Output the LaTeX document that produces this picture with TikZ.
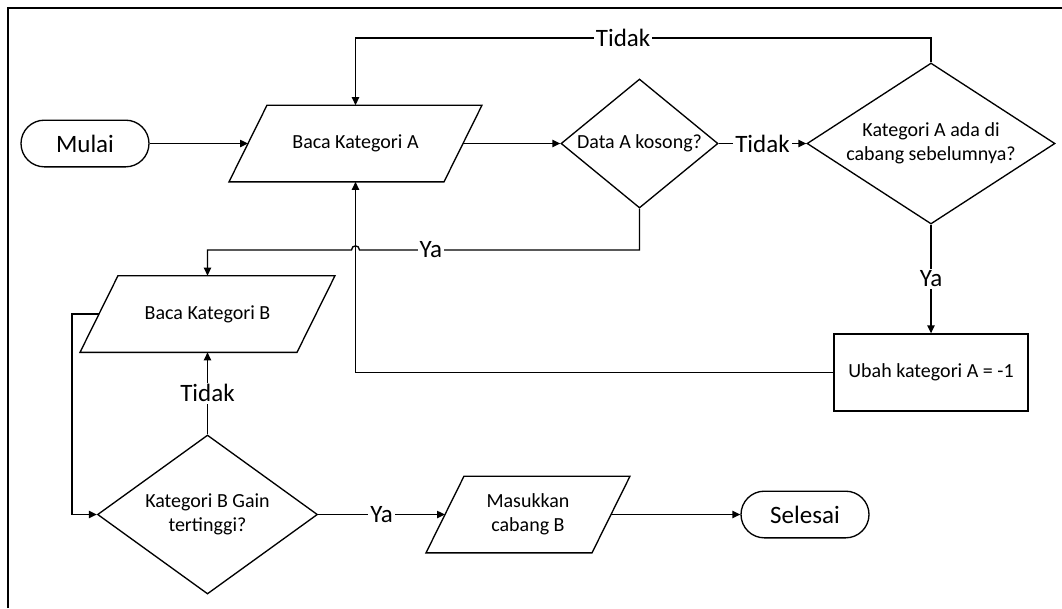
\documentclass[tikz,border=0pt]{standalone}
\usepackage{fontspec}
\setmainfont{Carlito}
\usetikzlibrary{arrows.meta,shapes.geometric,shapes.misc}
\begin{document}
\begin{tikzpicture}[x=0.75pt,y=-0.75pt,
  line width=1pt,
  small/.style={font=\fontsize{15}{18}\selectfont},
  big/.style={font=\fontsize{18.75}{22}\selectfont},
  terminal/.style={rounded rectangle, draw, big, minimum width=96pt, minimum height=35pt, inner sep=0pt},
  iobox/.style={small, align=center, inner sep=0pt, outer sep=0pt, minimum height=57.5pt},
  process/.style={rectangle, draw, small, minimum width=145.5pt, minimum height=57.75pt},
  decision/.style={diamond, draw, small, align=center, inner sep=0pt},
  lbl/.style={big, fill=white, inner sep=1.5pt},
  flow/.style={-{Triangle[length=6pt,width=5.5pt]}},
]
\useasboundingbox (0,0) rectangle (1062,608);

% frame
\draw[line width=1.5pt] (8,608) -- (8,8) -- (1062,8);

% nodes
\node[terminal] (start) at (85,143.5) {Mulai};
\node[iobox, minimum width=161.25pt] (bacaA) at (355.5,143.5) {Baca Kategori A};
\node[decision, minimum width=117.75pt, minimum height=96.75pt, aspect=1.22] (d1) at (639.5,143.5) {Data A kosong?};
\node[decision, minimum width=186pt, minimum height=120.75pt, aspect=1.54] (d2) at (931,143.5) {Kategori A ada di\\cabang sebelumnya?};
\node[process] (ubah) at (931,372.5) {Ubah kategori A = -1};
\node[iobox, minimum width=162.75pt] (bacaB) at (207.5,314) {Baca Kategori B};
\node[decision, minimum width=165pt, minimum height=119.25pt, aspect=1.38] (d3) at (207.5,514.5) {Kategori B Gain\\tertinggi?};
\node[iobox, minimum width=124.5pt] (masuk) at (528,514.5) {Masukkan\\cabang B};
\node[terminal] (finish) at (805,514.5) {Selesai};

% input/output parallelograms
\foreach \n in {bacaA,bacaB,masuk}
  \draw ([xshift=14.25pt]\n.north west) -- ([xshift=14.25pt]\n.north east)
     -- ([xshift=-14.25pt]\n.south east) -- ([xshift=-14.25pt]\n.south west) -- cycle;

% connectors
\draw[flow] (start.east) -- (bacaA.west);
\draw[flow] (bacaA.east) -- (d1.west);
\draw[flow] (d1.east) -- node[lbl]{Tidak} (d2.west);
\draw[flow] (d2.north) -- (931,38) -- node[lbl,pos=0.535]{Tidak} (355.5,38) -- (bacaA.north);
\draw[flow] (d2.south) -- node[lbl]{Ya} (ubah.north);
\draw[flow] (ubah.west) -- (355.5,372.5) -- (bacaA.south);
\draw[flow] (d1.south) -- (639.5,250) -- node[lbl,pos=0.745]{Ya} (359.5,250)
   .. controls (359.5,244.5) and (351.5,244.5) .. (351.5,250) -- (207.5,250) -- (bacaB.north);
\draw[flow] (bacaB.west) -- (72,314) -- (72,514.5) -- (d3.west);
\draw[flow] (d3.north) -- node[lbl]{Tidak} (bacaB.south);
\draw[flow] (d3.east) -- node[lbl]{Ya} (masuk.west);
\draw[flow] (masuk.east) -- (finish.west);
\end{tikzpicture}
\end{document}
